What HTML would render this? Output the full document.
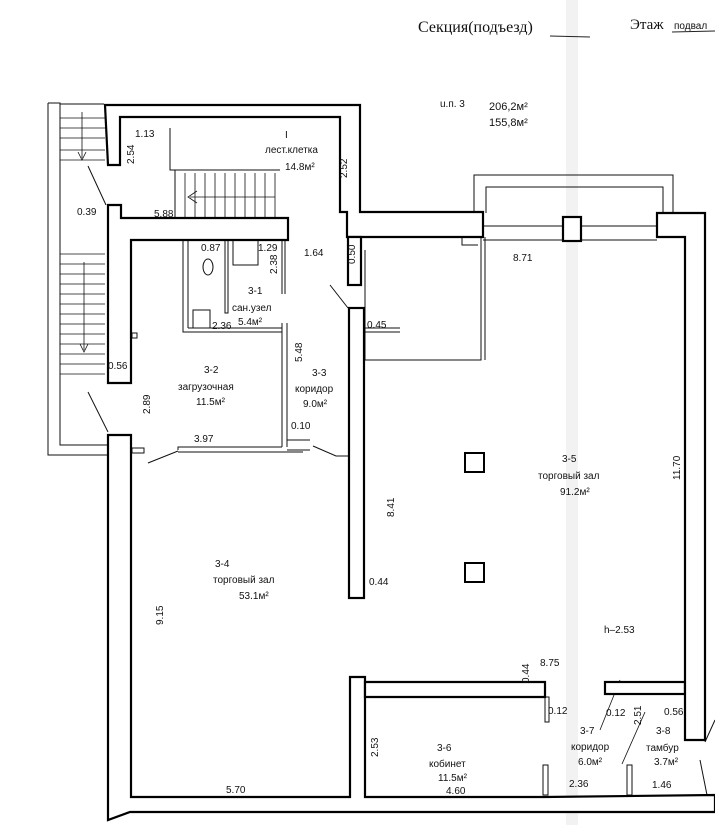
<!DOCTYPE html>
<html><head><meta charset="utf-8"><style>
body{margin:0;background:#fff}
svg{display:block}
text{font-family:"Liberation Sans","DejaVu Sans",sans-serif;fill:#111}
</style></head><body>
<svg width="715" height="825" viewBox="0 0 715 825" xmlns="http://www.w3.org/2000/svg">
<rect width="715" height="825" fill="#fff"/>
<rect x="566" y="0" width="12" height="825" fill="#f2f2f2"/>
<text x="418" y="32" font-size="16" style="font-family:'Liberation Serif',serif">Секция(подъезд)</text>
<line x1="550" y1="36" x2="590" y2="37" stroke="#222"/>
<text x="630" y="29" font-size="15" style="font-family:'Liberation Serif',serif">Этаж</text>
<text x="674" y="29" font-size="10">подвал</text>
<line x1="672" y1="32" x2="715" y2="31" stroke="#222"/>
<text x="440" y="107" font-size="10">u.п. 3</text>
<text x="489" y="110" font-size="11">206,2м²</text>
<text x="489" y="126" font-size="11">155,8м²</text>
<g fill="none" stroke="#111" stroke-width="1">
<polyline points="48,103 60,103 60,445 108,445"/>
<polyline points="48,103 48,455 108,455"/>
<line x1="60" y1="104" x2="104" y2="104"/>
<g stroke-width="0.8">
<line x1="60" y1="118" x2="105" y2="118"/><line x1="60" y1="128" x2="105" y2="128"/><line x1="60" y1="138" x2="105" y2="138"/><line x1="60" y1="150" x2="105" y2="150"/><line x1="60" y1="160" x2="105" y2="160"/>
<line x1="60" y1="254" x2="105" y2="254"/><line x1="60" y1="264" x2="105" y2="264"/><line x1="60" y1="274" x2="105" y2="274"/><line x1="60" y1="284" x2="105" y2="284"/><line x1="60" y1="294" x2="105" y2="294"/><line x1="60" y1="304" x2="105" y2="304"/><line x1="60" y1="314" x2="105" y2="314"/><line x1="60" y1="324" x2="105" y2="324"/><line x1="60" y1="334" x2="105" y2="334"/><line x1="60" y1="344" x2="105" y2="344"/><line x1="60" y1="354" x2="105" y2="354"/><line x1="60" y1="364" x2="105" y2="364"/><line x1="60" y1="374" x2="105" y2="374"/>
<line x1="82" y1="112" x2="82" y2="158"/><polyline points="78,152 82,160 86,152"/>
<line x1="84" y1="262" x2="84" y2="350"/><polyline points="80,344 84,352 88,344"/>
</g>
<line x1="88" y1="166" x2="106" y2="205"/>
<line x1="88" y1="392" x2="108" y2="432"/>
<polyline points="170,128 170,170 280,170"/>
<line x1="175" y1="170" x2="175" y2="218"/>
<g stroke-width="0.8"><line x1="185" y1="173" x2="185" y2="218"/><line x1="195" y1="173" x2="195" y2="218"/><line x1="205" y1="173" x2="205" y2="218"/><line x1="215" y1="173" x2="215" y2="218"/><line x1="225" y1="173" x2="225" y2="218"/><line x1="235" y1="173" x2="235" y2="218"/><line x1="245" y1="173" x2="245" y2="218"/><line x1="255" y1="173" x2="255" y2="218"/><line x1="265" y1="173" x2="265" y2="218"/><line x1="275" y1="173" x2="275" y2="218"/>
<line x1="190" y1="197" x2="275" y2="197"/><polyline points="197,191 188,197 197,203"/></g>
<polyline points="183,240 183,332 282,332"/><line x1="188" y1="240" x2="188" y2="328"/>
<line x1="188" y1="328" x2="282" y2="328"/>
<rect x="225" y="240" width="3" height="73"/>
<polyline points="233,240 233,265 258,265 258,240"/>
<line x1="282" y1="240" x2="282" y2="294"/><line x1="285" y1="240" x2="285" y2="294"/>
<rect x="193" y="310" width="17" height="18"/>
<ellipse cx="208" cy="267" rx="5" ry="8"/>
<line x1="282" y1="323" x2="282" y2="447"/><line x1="287" y1="323" x2="287" y2="447"/>
<polyline points="178,450 178,447 282,447"/><line x1="178" y1="452" x2="303" y2="452"/>
<line x1="148" y1="463" x2="178" y2="451"/>
<line x1="287" y1="440" x2="310" y2="440"/><line x1="287" y1="450" x2="310" y2="450"/>
<polyline points="313,446 336,456 348,456"/>
<rect x="132" y="448" width="12" height="5"/>
<rect x="132" y="333" width="5" height="5"/>
<line x1="330" y1="285" x2="348" y2="308"/>
<polyline points="365,250 365,360 481,360 481,237"/><line x1="485" y1="237" x2="485" y2="360"/>
<polyline points="462,237 462,245 478,245"/>
<line x1="365" y1="328" x2="400" y2="328"/><line x1="365" y1="332" x2="400" y2="332"/>
<polyline points="474,213 474,175 673,175 673,213"/>
<polyline points="486,213 486,187 663,187 663,213"/>
<line x1="483" y1="226" x2="657" y2="226"/><line x1="483" y1="240" x2="657" y2="240"/>
<line x1="600" y1="730" x2="620" y2="680" stroke-width="0.8"/>
<line x1="622" y1="764" x2="645" y2="712" stroke-width="0.8"/>
<rect x="543" y="765" width="5" height="30"/><rect x="627" y="765" width="5" height="30"/>
<rect x="545" y="697" width="4" height="25"/>
<line x1="705" y1="742" x2="715" y2="720"/>
<line x1="700" y1="760" x2="708" y2="800"/>
</g>
<g fill="#fff" stroke="#000" stroke-width="2.2">
<polygon points="105,105 360,105 360,212 483,212 483,237 347,237 347,212 340,212 340,117 120,117 120,165 108,165"/>
<polygon points="108,205 121,205 121,218 288,218 288,240 131,240 131,383 108,383"/>
<polygon points="108,435 131,435 131,797 350,797 350,677 365,677 365,797 545,797 715,795 715,812 130,812 108,820"/>
<rect x="349" y="308" width="15" height="290"/>
<rect x="348" y="237" width="13" height="48"/>
<polygon points="365,682 545,682 545,697 365,697"/>
<rect x="605" y="682" width="80" height="12"/>
<polygon points="657,213 705,213 705,740 685,740 685,237 657,237"/>
<rect x="563" y="217" width="18" height="24"/>
</g>
<rect x="465" y="453" width="19" height="19" fill="#fff" stroke="#000" stroke-width="2"/>
<rect x="465" y="563" width="19" height="19" fill="#fff" stroke="#000" stroke-width="2"/>
<g font-size="10">
<text x="285" y="138">I</text>
<text x="265" y="153">лест.клетка</text>
<text x="285" y="170">14.8м²</text>
<text x="135" y="137">1.13</text>
<text x="77" y="215">0.39</text>
<text x="154" y="217">5.88</text>
<text x="201" y="251">0.87</text>
<text x="258" y="251">1.29</text>
<text x="304" y="256">1.64</text>
<text x="248" y="294">3-1</text>
<text x="232" y="311">сан.узел</text>
<text x="238" y="325">5.4м²</text>
<text x="212" y="329">2.36</text>
<text x="367" y="328">0.45</text>
<text x="108" y="369">0.56</text>
<text x="204" y="373">3-2</text>
<text x="178" y="390">загрузочная</text>
<text x="196" y="405">11.5м²</text>
<text x="312" y="376">3-3</text>
<text x="295" y="392">коридор</text>
<text x="303" y="407">9.0м²</text>
<text x="194" y="442">3.97</text>
<text x="291" y="429">0.10</text>
<text x="562" y="462">3-5</text>
<text x="538" y="479">торговый зал</text>
<text x="560" y="495">91.2м²</text>
<text x="215" y="567">3-4</text>
<text x="213" y="583">торговый зал</text>
<text x="239" y="599">53.1м²</text>
<text x="369" y="585">0.44</text>
<text x="604" y="633">h–2.53</text>
<text x="540" y="666">8.75</text>
<text x="513" y="261">8.71</text>
<text x="437" y="751">3-6</text>
<text x="429" y="767">кобинет</text>
<text x="438" y="781">11.5м²</text>
<text x="548" y="714">0.12</text>
<text x="606" y="716">0.12</text>
<text x="664" y="715">0.56</text>
<text x="580" y="734">3-7</text>
<text x="571" y="750">коридор</text>
<text x="578" y="765">6.0м²</text>
<text x="656" y="734">3-8</text>
<text x="646" y="751">тамбур</text>
<text x="654" y="765">3.7м²</text>
<text x="226" y="793">5.70</text>
<text x="446" y="794">4.60</text>
<text x="569" y="787">2.36</text>
<text x="652" y="788">1.46</text>
</g>
<g font-size="10">
<text transform="translate(134,164) rotate(-90)">2.54</text>
<text transform="translate(347,178) rotate(-90)">2.52</text>
<text transform="translate(355,264) rotate(-90)">0.50</text>
<text transform="translate(277,274) rotate(-90)">2.38</text>
<text transform="translate(302,362) rotate(-90)">5.48</text>
<text transform="translate(150,414) rotate(-90)">2.89</text>
<text transform="translate(394,517) rotate(-90)">8.41</text>
<text transform="translate(163,625) rotate(-90)">9.15</text>
<text transform="translate(680,480) rotate(-90)">11.70</text>
<text transform="translate(529,683) rotate(-90)">0.44</text>
<text transform="translate(378,757) rotate(-90)">2.53</text>
<text transform="translate(641,725) rotate(-90)">2.51</text>
</g>
</svg>
</body></html>
